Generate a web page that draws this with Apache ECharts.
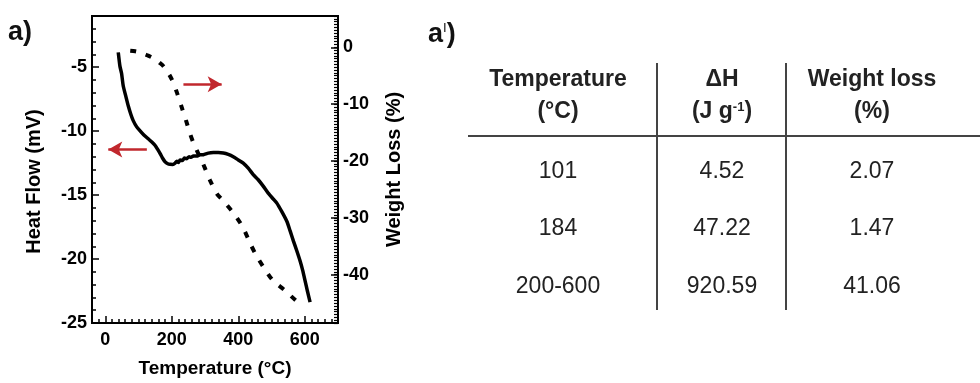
<!DOCTYPE html>
<html>
<head>
<meta charset="utf-8">
<script src="https://cdn.jsdelivr.net/npm/echarts@6/dist/echarts.min.js"></script>
<style>
html, body { margin: 0; background: #fff; }
#main { width: 980px; height: 383px; }
</style>
</head>
<body>
<div id="main"></div>
<script>
// heat flow (mV) vs temperature
var heatT = [39, 44, 49, 54, 62, 69, 77, 84, 94, 104, 116, 129, 140, 150, 158, 165, 172, 180, 188, 195,
	203, 210, 215, 220, 225, 232, 238, 245, 252, 258, 265, 275, 285, 295, 310, 325, 340, 355, 370, 385,
	400, 415, 430, 445, 460, 475, 490, 505, 516, 531, 546, 556, 566, 576, 586, 594, 601, 608, 616];
var heatFlow = [-3.84, -4.92, -5.5, -6.47, -7.3, -8.02, -8.7, -9.18, -9.65, -9.96, -10.3, -10.6, -10.85, -11.12, -11.45, -11.76, -12.1, -12.4, -12.55, -12.59,
	-12.6, -12.5, -12.35, -12.45, -12.25, -12.3, -12.1, -12.15, -12.0, -12.05, -11.94, -11.95, -11.85, -11.84, -11.72, -11.68, -11.68, -11.71, -11.82, -12.0,
	-12.25, -12.5, -12.9, -13.4, -13.8, -14.3, -14.85, -15.3, -15.63, -16.3, -17.05, -17.8, -18.6, -19.35, -20.15, -20.9, -21.7, -22.5, -23.37];

// weight loss (%) vs temperature
var lossT = [75, 90, 105, 118, 129, 150, 163, 175, 188, 200, 215, 230, 243, 255, 265, 275, 288, 300, 315, 335,
	350, 365, 390, 415, 435, 455, 480, 505, 541, 576, 588];
var weightLoss = [-0.6, -0.7, -0.9, -1.2, -1.47, -2.1, -2.7, -3.33, -4.4, -5.65, -7.9, -10.58, -12.9, -15.2, -16.8, -18.1, -19.7, -21.3, -23.4, -25.7,
	-26.7, -27.7, -29.5, -31.8, -34.4, -36.7, -39.04, -41.06, -42.8, -44.67, -45.0];

var xMajor = [0, 200, 400, 600];
var heatMajor = [-25, -20, -15, -10, -5];
var lossMajor = [-40, -30, -20, -10, 0];

// table a')
var tableHead = ['Temperature', '\u0394H', 'Weight loss'];
var tableUnits = ['(\u00b0C)', '(J g{s|-1})', '(%)'];
var tableRows = [
	['101', '4.52', '2.07'],
	['184', '47.22', '1.47'],
	['200-600', '920.59', '41.06']
];

var FONT = '"Liberation Sans", Arial, sans-serif';
var RED = '#c1272d';

function pairs(xs, ys) {
	return xs.map(function (x, i) { return [x, ys[i]]; });
}
function onList(list) {
	return function (v) { return list.indexOf(Math.round(v * 100) / 100) >= 0 ? String(Math.round(v)) : ''; };
}

var tickLabel = { fontFamily: FONT, fontWeight: 'bold', fontSize: 18, color: '#000' };

var myChart = echarts.init(document.getElementById('main'));

// table graphics
var colX = [558, 722, 872];
var rowY = [172, 229, 287];
var graphics = [
	{ type: 'text', x: 8, y: 33, style: { text: 'a)', font: 'bold 27px ' + FONT, fill: '#111', verticalAlign: 'middle' } },
	{ type: 'text', x: 428, y: 35, style: {
		text: 'a{s|I})', font: 'bold 27px ' + FONT, fill: '#111', verticalAlign: 'middle',
		rich: { s: { font: '13px ' + FONT, verticalAlign: 'top', fill: '#111' } }
	} },
	{ type: 'line', shape: { x1: 468, y1: 136, x2: 980, y2: 136 }, style: { stroke: '#444', lineWidth: 2 } },
	{ type: 'line', shape: { x1: 657, y1: 63, x2: 657, y2: 310 }, style: { stroke: '#444', lineWidth: 2 } },
	{ type: 'line', shape: { x1: 786, y1: 63, x2: 786, y2: 310 }, style: { stroke: '#444', lineWidth: 2 } }
];
tableHead.forEach(function (h, i) {
	graphics.push({ type: 'text', x: colX[i], y: 80, style: {
		text: h, font: 'bold 23px ' + FONT, fill: '#222', align: 'center', verticalAlign: 'middle'
	} });
	graphics.push({ type: 'text', x: colX[i], y: 112, style: {
		text: tableUnits[i], font: 'bold 23px ' + FONT, fill: '#222', align: 'center', verticalAlign: 'middle',
		rich: { s: { font: 'bold 13px ' + FONT, verticalAlign: 'top', fill: '#222' } }
	} });
});
tableRows.forEach(function (row, r) {
	row.forEach(function (cell, c) {
		graphics.push({ type: 'text', x: colX[c], y: rowY[r], style: {
			text: cell, font: '23px ' + FONT, fill: '#222', align: 'center', verticalAlign: 'middle'
		} });
	});
});

var noLine = { show: false, onZero: false };

option = {
	animation: false,
	backgroundColor: '#fff',
	grid: {
		left: 92,
		top: 16,
		width: 246,
		height: 310,
		show: true,
		borderColor: '#000',
		borderWidth: 2,
		containLabel: false
	},
	xAxis: [{
		type: 'value',
		min: -40,
		max: 700,
		interval: 20,
		position: 'bottom',
		axisLine: noLine,
		axisTick: { inside: true, length: 4, lineStyle: { color: '#000', width: 1.5 } },
		axisLabel: Object.assign({ margin: 8, formatter: onList(xMajor) }, tickLabel),
		splitLine: { show: false },
		name: 'Temperature (\u00b0C)',
		nameLocation: 'middle',
		nameGap: 36,
		nameTextStyle: { fontFamily: FONT, fontWeight: 'bold', fontSize: 19, color: '#000' }
	}, {
		type: 'value',
		min: -40,
		max: 700,
		position: 'bottom',
		axisLine: noLine,
		axisTick: { inside: true, length: 7, customValues: xMajor, lineStyle: { color: '#000', width: 1.5 } },
		axisLabel: { show: false },
		splitLine: { show: false }
	}],
	yAxis: [{
		type: 'value',
		min: -25,
		max: -1,
		interval: 1,
		position: 'left',
		axisLine: noLine,
		axisTick: { inside: true, length: 4, lineStyle: { color: '#000', width: 1.5 } },
		axisLabel: Object.assign({ margin: 5, formatter: onList(heatMajor) }, tickLabel),
		splitLine: { show: false },
		name: 'Heat Flow (mV)',
		nameLocation: 'middle',
		nameRotate: 90,
		nameGap: 48,
		nameTextStyle: { fontFamily: FONT, fontWeight: 'bold', fontSize: 20, color: '#000', padding: [0, 24, 0, 0] }
	}, {
		type: 'value',
		min: -25,
		max: -1,
		position: 'left',
		axisLine: noLine,
		axisTick: { inside: true, length: 7, customValues: heatMajor, lineStyle: { color: '#000', width: 1.5 } },
		axisLabel: { show: false },
		splitLine: { show: false }
	}, {
		type: 'value',
		min: -48.5,
		max: 5.5,
		interval: 0.5,
		position: 'right',
		axisLine: noLine,
		axisTick: { inside: true, length: 4, lineStyle: { color: '#000', width: 1.2 } },
		axisLabel: Object.assign({ margin: 5, formatter: onList(lossMajor) }, tickLabel),
		splitLine: { show: false },
		name: 'Weight Loss (%)',
		nameLocation: 'middle',
		nameRotate: 90,
		nameGap: 46,
		nameTextStyle: { fontFamily: FONT, fontWeight: 'bold', fontSize: 20, color: '#000' }
	}, {
		type: 'value',
		min: -48.5,
		max: 5.5,
		position: 'right',
		axisLine: noLine,
		axisTick: { inside: true, length: 7, customValues: lossMajor, lineStyle: { color: '#000', width: 1.5 } },
		axisLabel: { show: false },
		splitLine: { show: false }
	}],
	series: [{
		name: 'Heat Flow',
		type: 'line',
		xAxisIndex: 0,
		yAxisIndex: 0,
		data: pairs(heatT, heatFlow),
		showSymbol: false,
		smooth: 0.2,
		lineStyle: { color: '#000', width: 3.5 },
		markLine: {
			silent: true,
			symbol: ['none', 'arrow'],
			symbolSize: [12, 14],
			label: { show: false },
			lineStyle: { color: RED, width: 2.5, type: 'solid' },
			data: [[{ coord: [125, -11.43] }, { coord: [9, -11.43] }]]
		}
	}, {
		name: 'Weight Loss',
		type: 'line',
		xAxisIndex: 0,
		yAxisIndex: 2,
		data: pairs(lossT, weightLoss),
		showSymbol: false,
		smooth: 0.3,
		lineStyle: { color: '#000', width: 4, type: [6, 10], cap: 'butt' },
		markLine: {
			silent: true,
			symbol: ['none', 'arrow'],
			symbolSize: [12, 14],
			label: { show: false },
			lineStyle: { color: RED, width: 2.5, type: 'solid' },
			data: [[{ coord: [235, -6.52] }, { coord: [350, -6.52] }]]
		}
	}],
	graphic: graphics
};
myChart.setOption(option);
</script>
</body>
</html>
